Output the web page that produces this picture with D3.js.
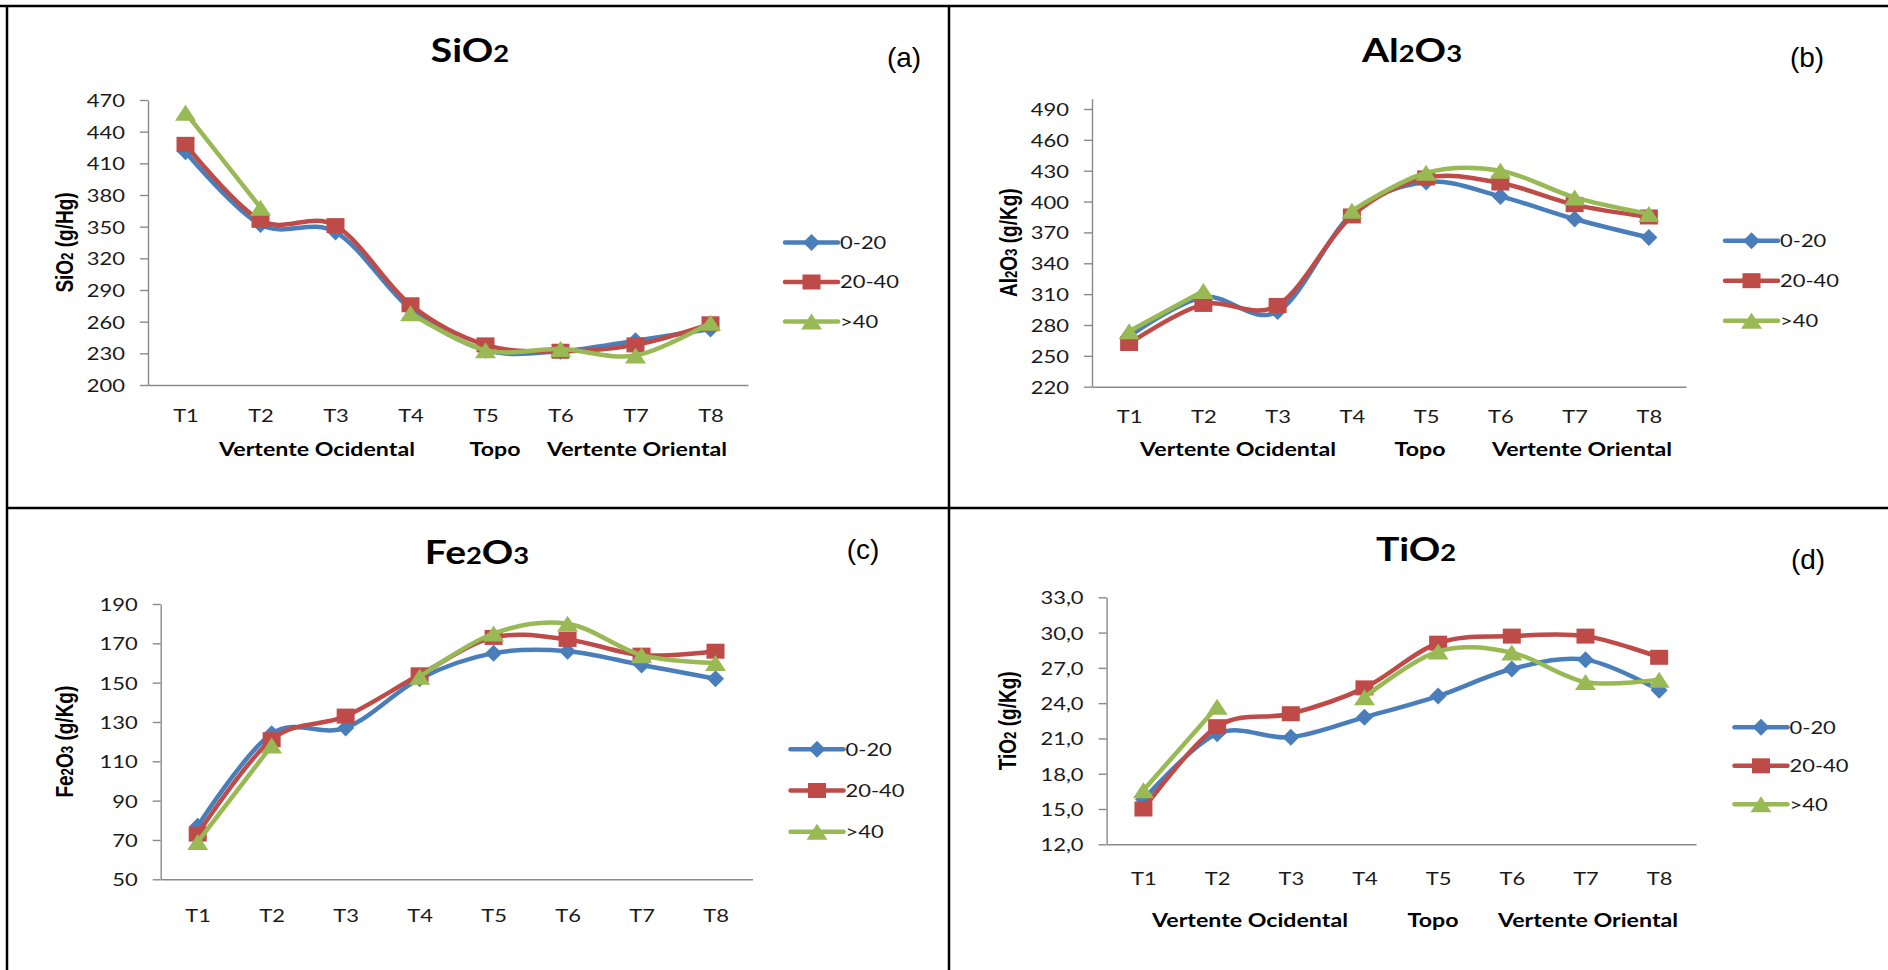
<!DOCTYPE html>
<html>
<head>
<meta charset="utf-8">
<script src="https://cdn.jsdelivr.net/npm/d3@7"></script>
<style>
body { margin: 0; background: #fff; }
svg { display: block; }
.tick text, .leg text, .xl { font-family: Lato, sans-serif; font-size: 18px; fill: #1a1a1a; }
.ttl { font-family: Lato, sans-serif; font-weight: bold; font-size: 32px; fill: #000; }
.grp { font-family: Lato, sans-serif; font-weight: bold; font-size: 19px; fill: #000; }
.tag { font-family: "Liberation Sans", Arial, sans-serif; font-size: 28px; fill: #000; }
.ytl { font-family: "Liberation Sans", Arial, sans-serif; font-weight: bold; font-size: 19px; fill: #000; }
</style>
</head>
<body>
<svg id="chart" width="1888" height="970"></svg>
<script>
// horizontal stretch of the original picture (text and markers look wider than tall)
var SX = 1.22;

var categories = ["T1", "T2", "T3", "T4", "T5", "T6", "T7", "T8"];
var depthNames = ["0-20", "20-40", ">40"];
var groupNames = ["Vertente Ocidental", "Topo", "Vertente Oriental"];

// SiO2 (g/Hg)
var sio2_0_20  = [421, 352, 345, 272, 233, 232, 242, 253];
var sio2_20_40 = [428, 356, 351, 276, 238, 232, 238, 258];
var sio2_40    = [458, 368, null, 268, 233, 234, 228, 259];
var sio2Ticks  = [200, 230, 260, 290, 320, 350, 380, 410, 440, 470];

// Al2O3 (g/Kg)
var al2o3_0_20  = [269, 307, 293, 388, 419, 405, 383, 365];
var al2o3_20_40 = [262, 300, 299, 386, 423, 418, 397, 385];
var al2o3_40    = [274, 313, null, 391, 428, 430, 404, 388];
var al2o3Ticks  = [220, 250, 280, 310, 340, 370, 400, 430, 460, 490];

// Fe2O3 (g/Kg)
var fe2o3_0_20  = [77, 124, 127, 152, 165, 166, 159, 152];
var fe2o3_20_40 = [73, 121, 133, 154, 173, 172, 164, 166];
var fe2o3_40    = [69, 118, null, 153, 175, 180, 164, 160];
var fe2o3Ticks  = [50, 70, 90, 110, 130, 150, 170, 190];

// TiO2 (g/Kg)
var tio2_0_20  = [15.8, 21.4, 21.1, 22.8, 24.6, 26.9, 27.7, 25.1];
var tio2_20_40 = [15.0, 22.0, 23.1, 25.3, 29.1, 29.7, 29.7, 27.9];
var tio2_40    = [16.6, 23.7, null, 24.5, 28.4, 28.3, 25.8, 26.0];
var tio2Ticks  = [12, 15, 18, 21, 24, 27, 30, 33];

var colors = ["#4A7EBB", "#BE4B48", "#98B954"];
var shapes = ["diamond", "square", "triangle"];

var ptLocale = d3.formatLocale({decimal: ",", thousands: ".", grouping: [3], currency: ["", ""]});

var panels = [
    {title: "SiO2", tag: "(a)", yTitle: "SiO2 (g/Hg)", series: [sio2_0_20, sio2_20_40, sio2_40],
     ticks: sio2Ticks, domain: [200, 470], fmt: d3.format("d"),
     left: 148, right: 748, top: 100, bottom: 385,
     titleX: 470, titleY: 62, tagX: 904, tagY: 67, yTitleX: 73, xLabelY: 422,
     groupX: [317, 495, 637], groupY: 456, legX: 785, legY: 242.5, legDy: 39.5},
    {title: "Al2O3", tag: "(b)", yTitle: "Al2O3 (g/Kg)", series: [al2o3_0_20, al2o3_20_40, al2o3_40],
     ticks: al2o3Ticks, domain: [220, 500], fmt: d3.format("d"),
     left: 1092, right: 1686, top: 98.7, bottom: 386.7,
     titleX: 1412, titleY: 62, tagX: 1807, tagY: 67, yTitleX: 1016.5, xLabelY: 423,
     groupX: [1238, 1420, 1582], groupY: 456, legX: 1725, legY: 240.7, legDy: 40},
    {title: "Fe2O3", tag: "(c)", yTitle: "Fe2O3 (g/Kg)", series: [fe2o3_0_20, fe2o3_20_40, fe2o3_40],
     ticks: fe2o3Ticks, domain: [50, 190], fmt: d3.format("d"),
     left: 160.7, right: 752.5, top: 604, bottom: 879.3,
     titleX: 477, titleY: 564, tagX: 863, tagY: 559, yTitleX: 73, xLabelY: 922,
     groupX: null, groupY: 0, legX: 790.5, legY: 749.3, legDy: 41.2},
    {title: "TiO2", tag: "(d)", yTitle: "TiO2 (g/Kg)", series: [tio2_0_20, tio2_20_40, tio2_40],
     ticks: tio2Ticks, domain: [12, 33], fmt: ptLocale.format(".1f"),
     left: 1106.6, right: 1696, top: 597.3, bottom: 844.3,
     titleX: 1416, titleY: 561, tagX: 1808, tagY: 569, yTitleX: 1015.5, xLabelY: 885,
     groupX: [1250, 1433, 1588], groupY: 927, legX: 1734.5, legY: 727.3, legDy: 38.5}
];

var svg = d3.select("#chart");
svg.append("rect").attr("width", 1888).attr("height", 970).attr("fill", "#fff");

// frame
var frame = svg.append("g").attr("stroke", "#000").attr("stroke-width", 2.5);
frame.append("line").attr("x1", 0).attr("x2", 1888).attr("y1", 6).attr("y2", 6);
frame.append("line").attr("x1", 7).attr("x2", 7).attr("y1", 5).attr("y2", 970);
frame.append("line").attr("x1", 949).attr("x2", 949).attr("y1", 5).attr("y2", 970);
frame.append("line").attr("x1", 7).attr("x2", 1888).attr("y1", 508).attr("y2", 508);

function stretched(sel, x, y) {
    return sel.attr("transform", "translate(" + x + "," + y + ") scale(" + SX + ",1)");
}

// digits in formulas are drawn smaller
function chemText(textSel, str) {
    str.split(/(\d)/).forEach(function(part) {
        if (part === "") return;
        var t = textSel.append("tspan").text(part);
        if (/\d/.test(part)) t.attr("font-size", "70%");
    });
}

function markerPath(shape) {
    var w, h;
    if (shape == "diamond") {
        w = 17; h = 17;
        return "M0," + (-h / 2) + "L" + (w / 2) + ",0L0," + (h / 2) + "L" + (-w / 2) + ",0Z";
    } else if (shape == "square") {
        w = 18; h = 15;
        return "M" + (-w / 2) + "," + (-h / 2) + "h" + w + "v" + h + "h" + (-w) + "Z";
    }
    w = 21; h = 16;
    return "M0," + (-h / 2) + "L" + (w / 2) + "," + (h / 2) + "L" + (-w / 2) + "," + (h / 2) + "Z";
}

panels.forEach(function(p) {
    var g = svg.append("g");
    var x = d3.scalePoint().domain(categories).range([p.left, p.right]).padding(0.5);
    var y = d3.scaleLinear().domain(p.domain).range([p.bottom, p.top]);

    // y axis
    var ya = g.append("g").attr("transform", "translate(" + p.left + ",0)")
        .call(d3.axisLeft(y).tickValues(p.ticks).tickFormat(p.fmt).tickSize(8).tickSizeOuter(0));
    ya.selectAll("text").attr("x", null).attr("dy", "0.36em")
        .each(function() { stretched(d3.select(this), -23, 0); });

    // x axis
    var xa = g.append("g").attr("transform", "translate(0," + p.bottom + ")")
        .call(d3.axisBottom(x).tickSize(0).tickSizeOuter(0));
    xa.selectAll("text").attr("y", null).attr("dy", null).attr("text-anchor", "middle")
        .each(function() { stretched(d3.select(this), 0, p.xLabelY - p.bottom); });

    g.selectAll(".domain, .tick line").attr("stroke", "#8a8a8a").attr("stroke-width", 1.4);
    g.selectAll(".tick text").attr("fill", "#1a1a1a");

    // titles
    chemText(stretched(g.append("text").attr("class", "ttl").attr("text-anchor", "middle"), p.titleX, p.titleY), p.title);
    g.append("text").attr("class", "tag").attr("text-anchor", "middle")
        .attr("x", p.tagX).attr("y", p.tagY).text(p.tag);
    var yt = g.append("text").attr("class", "ytl").attr("text-anchor", "middle")
        .attr("transform", "translate(" + p.yTitleX + "," + (p.top + p.bottom) / 2 + ") scale(" + SX + ",1) rotate(-90)");
    chemText(yt, p.yTitle);

    if (p.groupX) {
        groupNames.forEach(function(name, i) {
            stretched(g.append("text").attr("class", "grp").attr("text-anchor", "middle"), p.groupX[i], p.groupY).text(name);
        });
    }

    // series
    p.series.forEach(function(vals, s) {
        var line = d3.line()
            .defined(function(d) { return d != null; })
            .x(function(d, i) { return x(categories[i]); })
            .y(function(d) { return y(d); })
            .curve(d3.curveCatmullRom.alpha(0));
        g.append("path").datum(vals)
            .attr("d", line)
            .attr("fill", "none")
            .attr("stroke", colors[s])
            .attr("stroke-width", 4.5)
            .attr("stroke-linejoin", "round")
            .attr("stroke-linecap", "round");
        g.selectAll("path.m" + s)
            .data(vals.map(function(v, i) { return {v: v, c: categories[i]}; }).filter(function(d) { return d.v != null; }))
            .enter().append("path")
            .attr("class", "m" + s)
            .attr("d", markerPath(shapes[s]))
            .attr("fill", colors[s])
            .attr("transform", function(d) { return "translate(" + x(d.c) + "," + y(d.v) + ")"; });
    });

    // legend
    var leg = g.append("g").attr("class", "leg");
    depthNames.forEach(function(name, s) {
        var ly = p.legY + s * p.legDy;
        leg.append("line").attr("x1", p.legX).attr("x2", p.legX + 53).attr("y1", ly).attr("y2", ly)
            .attr("stroke", colors[s]).attr("stroke-width", 4.5).attr("stroke-linecap", "round");
        leg.append("path").attr("d", markerPath(shapes[s])).attr("fill", colors[s])
            .attr("transform", "translate(" + (p.legX + 26.5) + "," + ly + ")");
        stretched(leg.append("text").attr("dy", "0.36em"), p.legX + 55, ly).text(name);
    });
});
</script>
</body>
</html>
